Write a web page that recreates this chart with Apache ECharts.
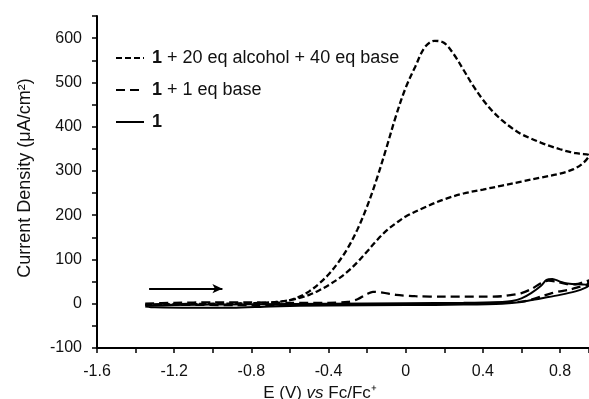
<!DOCTYPE html>
<html><head><meta charset="utf-8">
<script src="https://cdn.jsdelivr.net/npm/echarts@6/dist/echarts.min.js"></script>
<style>html,body{margin:0;padding:0;background:#fff}#c{width:589px;height:399px}</style>
</head><body><div id="c"></div>
<script>
// Series names (legend order)
const seriesNames = ['1 + 20 eq alcohol + 40 eq base', '1 + 1 eq base', '1'];

// 1 + 20 eq alcohol + 40 eq base (E in V vs Fc/Fc+, J in uA/cm2), forward then reverse scan
const alcE = [-1.35,-1.2,-1.0,-0.8,-0.7,-0.65,-0.6,-0.55,-0.5,-0.45,-0.4,-0.35,-0.3,-0.25,-0.2,-0.15,-0.1,-0.05,0,0.05,0.1,0.15,0.2,0.25,0.3,0.35,0.4,0.45,0.5,0.55,0.6,0.65,0.7,0.75,0.8,0.85,0.9,0.95,
              0.92,0.87,0.8,0.7,0.6,0.5,0.4,0.3,0.2,0.1,0,-0.05,-0.1,-0.15,-0.2,-0.25,-0.3,-0.35,-0.4,-0.45,-0.5,-0.55,-0.6,-0.7,-0.9,-1.1,-1.35];
const alcJ = [-2,-1,0,1,3,5,8,16,28,45,66,93,126,168,220,282,352,425,488,536,580,594,589,563,528,492,461,435,414,397,383,373,364,356,349,343,339,335,
              318,304,294,285,276,267,258,249,236,218,197,182,165,143,118,94,73,56,42,30,20,13,8,3,0,-1,-3];

// 1 + 1 eq base
const baseE = [-1.35,-1.2,-1.0,-0.8,-0.6,-0.4,-0.3,-0.25,-0.2,-0.17,-0.12,-0.05,0.05,0.2,0.4,0.5,0.55,0.6,0.65,0.7,0.74,0.78,0.83,0.88,0.93,0.95,
               0.94,0.9,0.85,0.8,0.75,0.7,0.65,0.6,0.5,0.3,0,-0.4,-0.8,-1.35];
const baseJ = [0,2,3,3,2,2,4,10,22,27,25,20,17,16,16,17,20,24,33,46,52,50,45,44,50,53,
               43,38,32,28,23,16,9,5,2,0,-1,-2,-3,-2];

// 1
const cplxE = [-1.35,-1.2,-1.0,-0.8,-0.4,0,0.3,0.5,0.55,0.6,0.65,0.7,0.73,0.76,0.8,0.85,0.9,0.95,
               0.93,0.88,0.8,0.7,0.6,0.5,0.3,0,-0.4,-0.7,-0.9,-1.1,-1.3,-1.35];
const cplxJ = [-4,-3,-2,-1,0,1,2,4,6,12,24,40,54,56,50,45,44,42,
               36,28,20,12,4,0,-2,-3,-4,-6,-9,-9,-8,-6];

// Scan-direction arrow
const arrowE = [-1.33, -0.95];
const arrowJ = 34;

const pairs = (xs, ys) => xs.map((x, i) => [x, ys[i]]);

const chart = echarts.init(document.getElementById('c'), null, {renderer: 'canvas'});
const FONT = 'Liberation Sans, Arial, sans-serif';

chart.setOption({
  animation: false,
  backgroundColor: '#fff',
  grid: {left: 97, right: 0, top: 16, bottom: 51, containLabel: false, outerBoundsMode: 'none'},
  legend: {
    orient: 'vertical', left: 110, top: 44,
    itemWidth: 28, itemHeight: 14, itemGap: 14,
    data: seriesNames,
    itemStyle: {opacity: 0},
    formatter: n => n === '1' ? '{b|1}' : '{b|1}' + n.slice(1),
    textStyle: {fontFamily: FONT, fontSize: 18, color: '#111', padding: [0, 0, 0, 3],
      rich: {b: {fontFamily: FONT, fontSize: 18, fontWeight: 'bold', color: '#111'}}}
  },
  xAxis: {
    type: 'value', min: -1.6, max: 0.95, interval: 0.4,
    name: '{n|E (V) }{i|vs}{n| Fc/Fc⁺}', nameLocation: 'middle', nameGap: 32,
    nameTextStyle: {padding: [0, 46, 0, 0],
      rich: {n: {fontFamily: FONT, fontSize: 17, color: '#111'},
             i: {fontFamily: FONT, fontSize: 17, fontStyle: 'italic', color: '#111'}}},
    axisLine: {onZero: false, lineStyle: {color: '#000', width: 2}},
    axisTick: {length: 5, lineStyle: {color: '#000', width: 1.5}},
    minorTick: {show: true, splitNumber: 2, length: 5, lineStyle: {color: '#000', width: 1.5}},
    splitLine: {show: false},
    axisLabel: {fontFamily: FONT, fontSize: 16, color: '#111', margin: 16,
      formatter: v => Math.abs(v - 0.95) < 1e-6 ? '' : String(+v.toFixed(1))}
  },
  yAxis: {
    type: 'value', min: -100, max: 650, interval: 100,
    name: 'Current Density (μA/cm²)', nameLocation: 'middle', nameGap: 63, nameRotate: 90,
    nameTextStyle: {fontFamily: FONT, fontSize: 18, color: '#111', padding: [0, 0, 0, 8]},
    axisLine: {onZero: false, lineStyle: {color: '#000', width: 2}},
    axisTick: {length: 5, lineStyle: {color: '#000', width: 1.5}},
    minorTick: {show: true, splitNumber: 2, length: 5, lineStyle: {color: '#000', width: 1.5}},
    splitLine: {show: false},
    axisLabel: {fontFamily: FONT, fontSize: 16, color: '#111', margin: 15,
      formatter: v => v === 650 ? '' : String(v)}
  },
  series: [
    {name: seriesNames[0], type: 'line', data: pairs(alcE, alcJ), symbol: 'none', smooth: 0.35,
     lineStyle: {color: '#000', width: 2.3, type: [6, 3]}, itemStyle: {color: '#000'}},
    {name: seriesNames[1], type: 'line', data: pairs(baseE, baseJ), symbol: 'none', smooth: 0.3,
     lineStyle: {color: '#000', width: 2.3, type: [9, 5]}, itemStyle: {color: '#000'}},
    {name: seriesNames[2], type: 'line', data: pairs(cplxE, cplxJ), symbol: 'none', smooth: 0.3,
     lineStyle: {color: '#000', width: 2, type: 'solid'}, itemStyle: {color: '#000'},
     markLine: {silent: true, symbol: ['none', 'arrow'], symbolSize: [7, 10],
       label: {show: false},
       lineStyle: {color: '#000', width: 2, type: 'solid'},
       data: [[{coord: [arrowE[0], arrowJ]}, {coord: [arrowE[1], arrowJ]}]]}}
  ]
});
</script>
</body></html>
